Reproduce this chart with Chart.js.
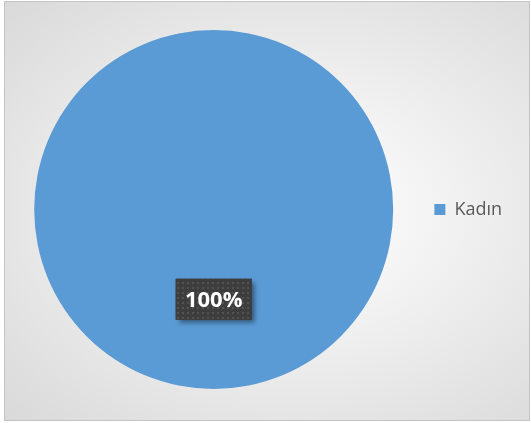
<!DOCTYPE html>
<html>
<head>
<meta charset="utf-8">
<script src="https://cdn.jsdelivr.net/npm/chart.js@4.4.0/dist/chart.umd.min.js"></script>
<style>
  html, body { margin: 0; padding: 0; background: #ffffff; }
  #wrap {
    position: absolute; left: 4px; top: 1px; width: 524px; height: 418px;
    border: 1px solid #c4c4c4;
    background: radial-gradient(ellipse at 55% 50%, #ffffff 0%, #f3f3f3 35%, #d9d9d9 100%);
  }
  #frame { position: absolute; left: 0; top: 0; width: 531px; height: 423px; }
</style>
</head>
<body>
<div id="wrap"></div>
<div id="frame"><canvas id="pieChart" width="531" height="423"></canvas></div>
<script>
const categories = ['Kadın'];
const values = [100];
const labels = ['100%'];

document.addEventListener('DOMContentLoaded', () => {
    // dotted dark fill for the data label box
    const pat = document.createElement('canvas');
    pat.width = 5; pat.height = 5;
    const pctx = pat.getContext('2d');
    pctx.fillStyle = '#3d3d3d';
    pctx.fillRect(0, 0, 5, 5);
    pctx.fillStyle = '#525252';
    pctx.fillRect(2, 2, 2, 2);

    const dataLabels = {
        id: 'dataLabels',
        afterDatasetsDraw(chart) {
            const ctx = chart.ctx;
            const meta = chart.getDatasetMeta(0);
            meta.data.forEach((arc, i) => {
                const pos = arc.tooltipPosition();
                const w = 76, h = 41;
                const x = pos.x - w / 2, y = pos.y - h / 2;
                ctx.save();
                ctx.shadowColor = 'rgba(0,0,0,0.45)';
                ctx.shadowBlur = 5;
                ctx.shadowOffsetX = 3;
                ctx.shadowOffsetY = 3;
                ctx.fillStyle = '#3d3d3d';
                ctx.fillRect(x, y, w, h);
                ctx.restore();
                ctx.save();
                ctx.fillStyle = ctx.createPattern(pat, 'repeat');
                ctx.fillRect(x, y, w, h);
                ctx.fillStyle = '#ffffff';
                ctx.font = 'bold 22px "Open Sans", sans-serif';
                ctx.textAlign = 'center';
                ctx.textBaseline = 'middle';
                ctx.fillText(labels[i], pos.x, pos.y + 1);
                ctx.restore();
            });
        }
    };

    new Chart(document.getElementById('pieChart'), {
        type: 'pie',
        data: {
            labels: categories,
            datasets: [{
                data: values,
                backgroundColor: ['#5b9bd5'],
                borderWidth: 0
            }]
        },
        options: {
            responsive: false,
            animation: false,
            layout: { padding: { left: 26, top: 30, bottom: 34, right: 19 } },
            plugins: {
                tooltip: { enabled: false },
                legend: {
                    position: 'right',
                    labels: {
                        boxWidth: 11,
                        boxHeight: 11,
                        padding: 33,
                        color: '#595959',
                        font: { family: '"Open Sans", sans-serif', size: 18 }
                    }
                }
            }
        },
        plugins: [dataLabels]
    });
});
</script>
</body>
</html>
